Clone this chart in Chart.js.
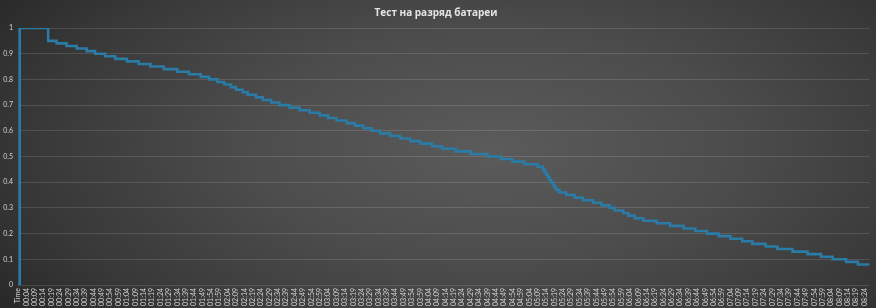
<!DOCTYPE html>
<html>
<head>
<meta charset="utf-8">
<script src="https://cdn.jsdelivr.net/npm/chart.js@4/dist/chart.umd.min.js"></script>
<style>
  html, body { margin: 0; padding: 0; }
  body { width: 876px; height: 308px; overflow: hidden;
    background: radial-gradient(ellipse 70% 95% at 56% 48%, #5b5b5b 0%, #4c4c4c 40%, #383838 75%, #262626 100%); }
  #wrap { width: 876px; height: 308px; position: relative; }
</style>
</head>
<body>
<div id="wrap"><canvas id="c" width="876" height="308"></canvas></div>
<script>
// ---- data ----
const startLabel = "Time";
const startValue = 0;
// times (HH:MM) at which the charge level changes, and the level from that minute on
const changeTimes = [
  "00:00","00:17","00:22","00:28","00:34","00:40","00:45","00:51","00:57",
  "01:04","01:11","01:18","01:26","01:34","01:41","01:48","01:53","01:58",
  "02:02","02:06","02:09","02:13","02:16","02:21","02:25","02:30","02:35","02:41","02:47","02:53","02:59",
  "03:04","03:09","03:15","03:20","03:25","03:30","03:35","03:41","03:47","03:53","03:59",
  "04:06","04:12","04:20","04:29","04:39","04:47","04:54",
  "05:01","05:09","05:12","05:13","05:14","05:15","05:16","05:17","05:18","05:19","05:20","05:22","05:26","05:31","05:36","05:42","05:47","05:52","05:55",
  "06:00","06:03","06:07","06:12","06:20","06:28","06:36","06:43","06:50","06:57",
  "07:04","07:11","07:17","07:25","07:32","07:41","07:50","07:58",
  "08:05","08:13","08:20","08:27"
];
const chargeLevels = [
  1.00,0.95,0.94,0.93,0.92,0.91,0.90,0.89,0.88,
  0.87,0.86,0.85,0.84,0.83,0.82,0.81,0.80,0.79,
  0.78,0.77,0.76,0.75,0.74,0.73,0.72,0.71,0.70,0.69,0.68,0.67,0.66,
  0.65,0.64,0.63,0.62,0.61,0.60,0.59,0.58,0.57,0.56,0.55,
  0.54,0.53,0.52,0.51,0.50,0.49,0.48,
  0.47,0.46,0.45,0.44,0.43,0.42,0.41,0.40,0.39,0.38,0.37,0.36,0.35,0.34,0.33,0.32,0.31,0.30,0.29,
  0.28,0.27,0.26,0.25,0.24,0.23,0.22,0.21,0.20,0.19,
  0.18,0.17,0.16,0.15,0.14,0.13,0.12,0.11,
  0.10,0.09,0.08,0.08
];
const xTickLabels = [
  "Time",
  "00:04","00:09","00:14","00:19","00:24","00:29","00:34","00:39","00:44","00:49","00:54","00:59",
  "01:04","01:09","01:14","01:19","01:24","01:29","01:34","01:39","01:44","01:49","01:54","01:59",
  "02:04","02:09","02:14","02:19","02:24","02:29","02:34","02:39","02:44","02:49","02:54","02:59",
  "03:04","03:09","03:14","03:19","03:24","03:29","03:34","03:39","03:44","03:49","03:54","03:59",
  "04:04","04:09","04:14","04:19","04:24","04:29","04:34","04:39","04:44","04:49","04:54","04:59",
  "05:04","05:09","05:14","05:19","05:24","05:29","05:34","05:39","05:44","05:49","05:54","05:59",
  "06:04","06:09","06:14","06:19","06:24","06:29","06:34","06:39","06:44","06:49","06:54","06:59",
  "07:04","07:09","07:14","07:19","07:24","07:29","07:34","07:39","07:44","07:49","07:54","07:59",
  "08:04","08:09","08:14","08:19","08:24"
];
const yTickLabels = ["0","0.1","0.2","0.3","0.4","0.5","0.6","0.7","0.8","0.9","1"];
const chartTitle = "Тест на разряд батареи";

// ---- build chart ----
function toMinutes(label) {
  if (label === startLabel) return -1;
  const p = label.split(":");
  return parseInt(p[0], 10) * 60 + parseInt(p[1], 10);
}
const points = [{ x: toMinutes(startLabel), y: startValue }]
  .concat(changeTimes.map((t, i) => ({ x: toMinutes(t), y: chargeLevels[i] })));
const xTickValues = xTickLabels.map(toMinutes);

const tickFont = { family: "Lato, 'Liberation Sans', sans-serif", size: 7 };

new Chart(document.getElementById('c'), {
  type: 'line',
  data: {
    datasets: [{
      data: points,
      stepped: true,
      borderColor: '#2a7ba5',
      borderWidth: 2.6,
      pointRadius: 0,
      fill: false
    }]
  },
  options: {
    responsive: false,
    animation: false,
    layout: { padding: { top: 3, right: 4, left: 0, bottom: 0 } },
    plugins: {
      legend: { display: false },
      tooltip: { enabled: false },
      title: {
        display: true,
        text: chartTitle,
        color: '#e4e4e4',
        font: { family: "'Open Sans', sans-serif", size: 10, weight: 'bold' },
        padding: { top: 4, bottom: 9 }
      }
    },
    scales: {
      x: {
        type: 'linear',
        min: toMinutes(startLabel),
        max: toMinutes(changeTimes[changeTimes.length - 1]),
        afterBuildTicks: (scale) => { scale.ticks = xTickValues.map(v => ({ value: v })); },
        afterFit: (scale) => { scale.height = 23; },
        grid: { display: false, drawTicks: false },
        border: { display: false },
        ticks: {
          autoSkip: false,
          minRotation: 90,
          maxRotation: 90,
          padding: 3,
          color: '#d4d4d4',
          font: tickFont,
          callback: (v, i) => xTickLabels[i]
        }
      },
      y: {
        min: 0,
        max: 1,
        afterBuildTicks: (scale) => { scale.ticks = yTickLabels.map(l => ({ value: parseFloat(l) })); },
        afterFit: (scale) => { scale.width = 18; },
        grid: { color: 'rgba(255,255,255,0.13)', lineWidth: 1, drawTicks: false },
        border: { display: false },
        ticks: {
          padding: 5,
          color: '#d4d4d4',
          font: tickFont,
          callback: (v, i) => yTickLabels[i]
        }
      }
    }
  }
});
</script>
</body>
</html>
